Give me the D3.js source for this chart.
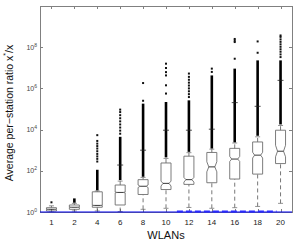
<!DOCTYPE html>
<html>
<head>
<meta charset="utf-8">
<script src="https://cdn.jsdelivr.net/npm/d3@7"></script>
<style>
  body { margin: 0; background: #fff; }
  text { font-family: "Liberation Sans", Arial, sans-serif; }
</style>
</head>
<body>
<div id="chart"></div>
<script>
// Data (log10 of the ratio)
const wlans = [1, 2, 4, 6, 8, 10, 12, 14, 16, 18, 20];
const whiskerLo = [0.0, 0.05, 0.05, 0.02, 0.13, 0.18, 0.22, 0.18, 0.21, 0.27, 0.42];
const q1 = [0.05, 0.13, 0.23, 0.34, 0.85, 1.09, 1.34, 1.42, 1.6, 1.84, 2.35];
const median = [0.13, 0.23, 0.32, 0.95, 1.25, 1.39, 1.57, 2.19, 2.57, 2.76, 2.95];
const q3 = [0.21, 0.34, 0.98, 1.31, 1.57, 2.38, 2.71, 2.89, 3.09, 3.4, 3.97];
const notchLo = [0.12, 0.22, 0.31, 0.93, 1.19, 1.26, 1.45, 1.95, 2.45, 2.62, 2.68];
const notchHi = [0.14, 0.24, 0.33, 0.97, 1.31, 1.5, 1.68, 2.44, 2.7, 2.9, 3.24];
const whiskerHi = [0.3, 0.42, 1.02, 1.5, 1.68, 2.6, 2.88, 3.05, 3.35, 3.65, 4.2];
const denseOut = [null, [0.45, 0.66], [1.05, 2.05], [1.55, 3.65], [1.71, 5.26], [2.65, 5.34],
                  [2.92, 5.42], [3.08, 6.63], [3.38, 6.96], [3.7, 7.36], [4.25, 7.36]];
const sparseOut = [
    [0.47],
    [],
    [2.45, 2.58, 2.7, 2.82, 2.95, 3.08, 3.2, 3.32, 3.45, 3.73],
    [3.8, 3.95, 4.1, 4.25, 4.4, 4.55, 4.7, 4.85, 4.97],
    [5.4, 6.26],
    [5.75, 6.15, 6.63, 6.79, 6.99, 7.2],
    [5.58, 5.72, 5.86, 6.0, 6.14, 6.28, 6.42, 6.56, 6.72],
    [6.8, 6.96],
    [7.44, 8.25, 8.32, 8.4],
    [7.73, 8.28],
    [7.52, 7.65, 7.78, 7.9, 8.02, 8.14, 8.26, 8.38, 8.5, 8.57]
];
const meanMark = [null, null, null, 2.28, 3.0, 3.97, 3.97, 4.02, 5.31, 5.13, 6.39];
const yTicks = [0, 2, 4, 6, 8];

// Layout
const width = 297, height = 242;
const pLeft = 40, pRight = 292, pTop = 6, pBottom = 212;
const frameColor = "#808080";

const svg = d3.select("#chart").append("svg")
    .attr("width", width)
    .attr("height", height);

const x = d3.scalePoint().domain(wlans).range([pLeft, pRight]).padding(0.5);
const y = d3.scaleLog().domain([1, 1e10]).range([pBottom, pTop]);
const yl = v => y(Math.pow(10, v));

// frame
svg.append("rect")
    .attr("x", pLeft + 0.5).attr("y", pTop + 0.5)
    .attr("width", pRight - pLeft).attr("height", pBottom - pTop)
    .attr("fill", "none").attr("stroke", frameColor).attr("stroke-width", 1);

// inward ticks
wlans.forEach(c => {
    const xx = Math.round(x(c)) + 0.5;
    svg.append("line").attr("x1", xx).attr("x2", xx).attr("y1", pTop).attr("y2", pTop + 3)
        .attr("stroke", frameColor);
    svg.append("line").attr("x1", xx).attr("x2", xx).attr("y1", pBottom).attr("y2", pBottom - 3)
        .attr("stroke", frameColor);
});
yTicks.forEach(t => {
    const yy = Math.round(yl(t)) + 0.5;
    svg.append("line").attr("x1", pLeft).attr("x2", pLeft + 3).attr("y1", yy).attr("y2", yy)
        .attr("stroke", frameColor);
    svg.append("line").attr("x1", pRight).attr("x2", pRight - 3).attr("y1", yy).attr("y2", yy)
        .attr("stroke", frameColor);
});

// y tick labels 10^n
yTicks.forEach(t => {
    const tx = svg.append("text")
        .attr("x", pLeft - 3).attr("y", yl(t) + 2.5)
        .attr("text-anchor", "end")
        .attr("font-size", 7).attr("fill", "#444");
    tx.append("tspan").text("10");
    tx.append("tspan").attr("dy", -3).attr("font-size", 5).text(t);
});

// x tick labels
svg.selectAll(".xl").data(wlans).enter().append("text")
    .attr("x", d => x(d)).attr("y", 225)
    .attr("text-anchor", "middle")
    .attr("font-size", 8).attr("fill", "#222")
    .text(d => d);

svg.append("text")
    .attr("x", (pLeft + pRight) / 2).attr("y", 239)
    .attr("text-anchor", "middle")
    .attr("font-size", 11).attr("fill", "#111")
    .text("WLANs");

const yt = svg.append("text")
    .attr("transform", `translate(13,${(pTop + pBottom) / 2 + 4}) rotate(-90)`)
    .attr("text-anchor", "middle")
    .attr("font-size", 10.5).attr("fill", "#111");
yt.append("tspan").text("Average per\u2212station ratio x");
yt.append("tspan").attr("dy", -5).attr("font-size", 7).text("*");
yt.append("tspan").attr("dy", 5).text("/x");

// boxes
const bw = 5, nw = 3;
wlans.forEach((c, i) => {
    const cx = x(c);
    const g = svg.append("g");

    // whiskers
    g.append("line").attr("x1", cx).attr("x2", cx)
        .attr("y1", yl(whiskerLo[i])).attr("y2", yl(q1[i]))
        .attr("stroke", "#555").attr("stroke-dasharray", "4,3").attr("stroke-width", 0.8);
    g.append("line").attr("x1", cx).attr("x2", cx)
        .attr("y1", yl(q3[i])).attr("y2", yl(whiskerHi[i]))
        .attr("stroke", "#555").attr("stroke-dasharray", "4,3").attr("stroke-width", 0.8);
    [whiskerLo[i], whiskerHi[i]].forEach(v => {
        g.append("line").attr("x1", cx - 2.5).attr("x2", cx + 2.5)
            .attr("y1", yl(v)).attr("y2", yl(v))
            .attr("stroke", "#777").attr("stroke-width", 0.8);
    });

    // notched box
    const b0 = yl(q1[i]), b1 = yl(q3[i]);
    const n0 = yl(notchLo[i]), n1 = yl(notchHi[i]), m = yl(median[i]);
    const pts = [
        [cx - bw, b1], [cx + bw, b1], [cx + bw, n1], [cx + nw, m], [cx + bw, n0],
        [cx + bw, b0], [cx - bw, b0], [cx - bw, n0], [cx - nw, m], [cx - bw, n1]
    ];
    g.append("path")
        .attr("d", d3.line()(pts) + "Z")
        .attr("fill", "none").attr("stroke", "#6e6e6e").attr("stroke-width", 0.9);
    g.append("line").attr("x1", cx - nw).attr("x2", cx + nw)
        .attr("y1", m).attr("y2", m)
        .attr("stroke", "#222").attr("stroke-width", 0.9);

    // dense outliers
    if (denseOut[i]) {
        g.append("line").attr("x1", cx).attr("x2", cx)
            .attr("y1", yl(denseOut[i][0])).attr("y2", yl(denseOut[i][1]))
            .attr("stroke", "#000").attr("stroke-width", 2.6);
    }
    // sparse outliers
    sparseOut[i].forEach(v => {
        g.append("rect").attr("x", cx - 1).attr("y", yl(v) - 1)
            .attr("width", 2).attr("height", 2).attr("fill", "#111");
    });
    // mean marker
    if (meanMark[i] != null) {
        g.append("line").attr("x1", cx - 3).attr("x2", cx + 3)
            .attr("y1", yl(meanMark[i])).attr("y2", yl(meanMark[i]))
            .attr("stroke", "#222").attr("stroke-width", 0.8);
    }
});

// blue reference line at 1
svg.append("line")
    .attr("x1", pLeft).attr("x2", pRight)
    .attr("y1", y(1)).attr("y2", y(1))
    .attr("stroke", "#0000ee").attr("stroke-width", 1);
svg.append("line")
    .attr("x1", x(12) - 12).attr("x2", x(20) - 4)
    .attr("y1", y(1) - 0.5).attr("y2", y(1) - 0.5)
    .attr("stroke", "#2a2aff").attr("stroke-width", 2)
    .attr("stroke-dasharray", "6,3");
</script>
</body>
</html>
